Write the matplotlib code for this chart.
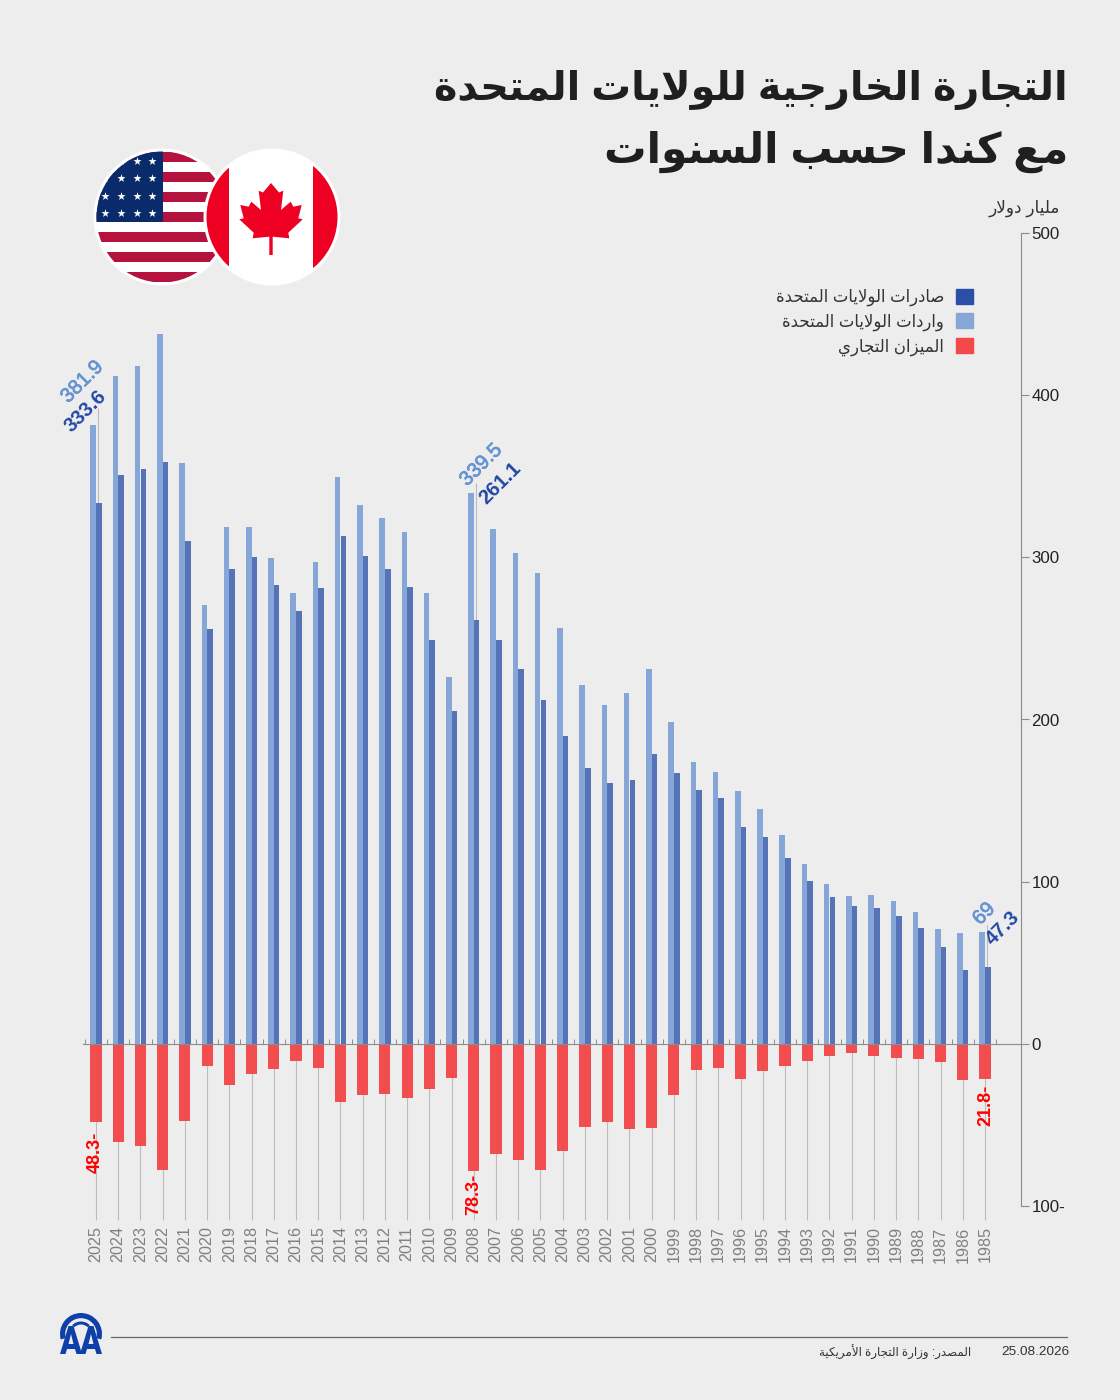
import numpy as np
import matplotlib
matplotlib.use('Agg')
import matplotlib.pyplot as plt
import matplotlib.patheffects as pe
from matplotlib.patches import Circle, Rectangle, Polygon, Wedge, Patch

plt.rcParams['font.family'] = ['Liberation Sans', 'DejaVu Sans']

years = list(range(2025, 1984, -1))
imports_us = [381.9, 412, 418, 437.5, 358, 270.5, 319, 319, 299.5, 278, 297, 349.5, 332.5, 324.5,
              315.5, 278, 226.5, 339.5, 317.5, 302.5, 290.5, 256.5, 221.5, 209, 216.5, 231, 198.5,
              173.5, 167.5, 156, 145, 128.5, 111, 98.5, 91, 91.5, 88, 81.5, 71, 68.5, 69]
exports_us = [333.6, 351, 354.5, 359, 310, 256, 293, 300, 283, 267, 281, 313, 301, 293,
              281.5, 249, 205, 261.1, 249, 231, 212, 190, 170, 161, 163, 179, 167,
              156.5, 151.5, 134, 127.5, 114.5, 100.5, 90.5, 85, 83.5, 79, 71.5, 59.5, 45.5, 47.3]
balance = [-48.3, -60.8, -63.3, -78, -47.3, -13.4, -25.3, -18.3, -15.8, -10.5, -15, -36, -31.3, -31.2,
           -33.7, -28, -21.2, -78.3, -67.8, -71.5, -78.1, -66, -51.4, -47.9, -52.4, -51.6, -31.6,
           -16.2, -15.2, -21.4, -16.6, -13.6, -10.5, -7.8, -5.5, -7.4, -8.8, -9.4, -10.9, -22.6, -21.8]
y_ticks = [-100, 0, 100, 200, 300, 400, 500]
y_tick_labels = ['100-', '0', '100', '200', '300', '400', '500']

title_1 = 'التجارة الخارجية للولايات المتحدة'
title_2 = 'مع كندا حسب السنوات'
unit_label = 'مليار دولار'
legend_labels = ['صادرات الولايات المتحدة', 'واردات الولايات المتحدة', 'الميزان التجاري']
source_label = 'المصدر: وزارة التجارة الأمريكية'
date_label = '25.08.2026'

BG = '#ededed'
LIGHT = '#86a6d7'
DARK = '#5773b8'
DARK_LEGEND = '#2b4fa6'
RED = '#f3474a'
AXIS = '#8c8c8c'

# matplotlib has no arabic shaping, so pick the presentation forms by hand
FORMS = {
    'ا': (0xFE8D, 0xFE8E), 'أ': (0xFE83, 0xFE84), 'ب': (0xFE8F, 0xFE90, 0xFE91, 0xFE92),
    'ة': (0xFE93, 0xFE94), 'ت': (0xFE95, 0xFE96, 0xFE97, 0xFE98), 'ج': (0xFE9D, 0xFE9E, 0xFE9F, 0xFEA0),
    'ح': (0xFEA1, 0xFEA2, 0xFEA3, 0xFEA4), 'خ': (0xFEA5, 0xFEA6, 0xFEA7, 0xFEA8), 'د': (0xFEA9, 0xFEAA),
    'ر': (0xFEAD, 0xFEAE), 'ز': (0xFEAF, 0xFEB0), 'س': (0xFEB1, 0xFEB2, 0xFEB3, 0xFEB4),
    'ص': (0xFEB9, 0xFEBA, 0xFEBB, 0xFEBC), 'ع': (0xFEC9, 0xFECA, 0xFECB, 0xFECC),
    'ق': (0xFED5, 0xFED6, 0xFED7, 0xFED8), 'ك': (0xFED9, 0xFEDA, 0xFEDB, 0xFEDC),
    'ل': (0xFEDD, 0xFEDE, 0xFEDF, 0xFEE0), 'م': (0xFEE1, 0xFEE2, 0xFEE3, 0xFEE4),
    'ن': (0xFEE5, 0xFEE6, 0xFEE7, 0xFEE8), 'و': (0xFEED, 0xFEEE), 'ي': (0xFEF1, 0xFEF2, 0xFEF3, 0xFEF4),
}
LAM_ALEF = {'ا': (0xFEFB, 0xFEFC), 'أ': (0xFEF7, 0xFEF8)}


def shape(text):
    out = []
    i = 0
    joins = False
    while i < len(text):
        c = text[i]
        if c not in FORMS:
            out.append(c)
            joins = False
            i += 1
            continue
        nxt = text[i + 1] if i + 1 < len(text) else ''
        if c == 'ل' and nxt in LAM_ALEF:
            out.append(chr(LAM_ALEF[nxt][1 if joins else 0]))
            joins = False
            i += 2
            continue
        f = FORMS[c]
        next_ok = nxt in FORMS and len(f) == 4
        if joins and next_ok:
            g = f[3]
        elif joins:
            g = f[1]
        elif next_ok:
            g = f[2]
        else:
            g = f[0]
        out.append(chr(g))
        joins = next_ok
        i += 1
    return ''.join(reversed(out))


fig = plt.figure(figsize=(11.2, 14), dpi=100, facecolor=BG)
ax = fig.add_axes([83 / 1120, (1400 - 1206) / 1400, (1021 - 83) / 1120, 973 / 1400])
ax.set_facecolor('none')
x = np.arange(len(years))

ax.vlines(x, 0, -108.5, color='#bcbcbc', lw=0.8, zorder=1, clip_on=False)
ax.bar(x - 0.125, imports_us, width=0.25, color=LIGHT, zorder=2)
ax.bar(x + 0.13, exports_us, width=0.25, color=DARK, zorder=2)
ax.bar(x, balance, width=0.5, color=RED, alpha=0.96, zorder=2)

ax.set_xlim(-0.585, 41.62)
ax.set_ylim(-100, 500)
for s in ['left', 'top']:
    ax.spines[s].set_visible(False)
ax.spines['bottom'].set_position(('data', 0))
ax.spines['bottom'].set_color(AXIS)
ax.spines['right'].set_color(AXIS)
ax.set_xticks(np.append(x - 0.5, x[-1] + 0.5))
ax.tick_params(axis='x', direction='in', length=3.6, width=0.7, color=AXIS, labelbottom=False)
ax.yaxis.tick_right()
ax.set_yticks(y_ticks)
ax.set_yticklabels(y_tick_labels)
ax.tick_params(axis='y', length=6, width=0.8, color=AXIS, labelsize=12.2, labelcolor='#222222', pad=1.5)

for xi, yr in zip(x, years):
    ax.text(xi, -112.5, str(yr), rotation=90, ha='center', va='top', fontsize=11.6, color='#808080', clip_on=False)

# leader lines and the highlighted years
for i, top in [(0, 392), (17, 346), (40, 73)]:
    ax.vlines(x[i] + 0.1, exports_us[i], top, color='#bcbcbc', lw=0.8, zorder=1)

def value_label(i, series, dx, dy, color, weight, rotation):
    t = ax.annotate(f'{series[i]:g}', xy=(x[i], series[i]), xytext=(dx, dy), textcoords='offset points',
                    ha='center', va='center', rotation=rotation, rotation_mode='anchor',
                    color=color, fontweight=weight, fontsize=14.6, zorder=5)
    if weight == 'normal':
        t.set_path_effects([pe.withStroke(linewidth=0.5, foreground=color)])

value_label(0, imports_us, -10, 30.7, '#6694d3', 'normal', 45)
value_label(0, exports_us, -7.2, 66.2, '#2148a5', 'bold', 45)
value_label(17, imports_us, 5.2, 20.4, '#6694d3', 'normal', 45)
value_label(17, exports_us, 18.9, 99, '#2148a5', 'bold', 45)
value_label(40, imports_us, -0.7, 13, '#6694d3', 'normal', 45)
value_label(40, exports_us, 13, 28.3, '#2148a5', 'bold', 45)
for i, dx, dy in [(0, -0.7, -22), (17, -0.3, -17.3), (40, 0.7, -19)]:
    ax.annotate(f'{abs(balance[i]):g}-', xy=(x[i], balance[i]), xytext=(dx, dy), textcoords='offset points',
                ha='center', va='center', rotation=90, rotation_mode='anchor',
                color='#ff0000', fontweight='bold', fontsize=13, zorder=5)

handles = [Patch(color=DARK_LEGEND), Patch(color=LIGHT), Patch(color=RED)]
fig.legend(handles, [shape(t) for t in legend_labels], frameon=False, markerfirst=False,
           loc='upper right', bbox_to_anchor=(973 / 1120, 1 - 288.5 / 1400), borderaxespad=0, borderpad=0,
           fontsize=11.9, labelcolor='#333333', handlelength=1.03, handleheight=1.03,
           handletextpad=0.72, labelspacing=0.44)

# page furniture in pixel coordinates
ov = fig.add_axes([0, 0, 1, 1], zorder=10)
ov.set_xlim(0, 1120)
ov.set_ylim(1400, 0)
ov.axis('off')

ov.text(1068, 90, shape(title_1), ha='right', va='center', fontsize=28.6, fontweight='bold', color='#1f1f1f')
ov.text(1068, 152, shape(title_2), ha='right', va='center', fontsize=30.5, fontweight='bold', color='#1f1f1f')
ov.text(1060, 208, shape(unit_label), ha='right', va='center', fontsize=12.2, color='#333333')
ov.text(1069, 1352, date_label, ha='right', va='center', fontsize=9.7, color='#333333')
ov.text(971, 1352, shape(source_label), ha='right', va='center', fontsize=8.6, color='#333333')
ov.plot([111, 1067], [1337, 1337], color='#666666', lw=0.9)

# US flag
ov.add_patch(Circle((162, 217), 68.5, fc='white', ec='none', zorder=1))
us_clip = Circle((162, 217), 65.5, transform=ov.transData)
for top in range(152, 282, 20):
    r = Rectangle((90, top), 150, 10, fc='#b5123e', ec='none', zorder=2)
    ov.add_patch(r)
    r.set_clip_path(us_clip)
canton = Rectangle((90, 150), 73, 72, fc='#0a2b6b', ec='none', zorder=3)
ov.add_patch(canton)
canton.set_clip_path(us_clip)
sx, sy = np.meshgrid([105, 121, 137, 152], [161, 178, 196, 213])
stars = ov.scatter(sx.ravel(), sy.ravel(), marker='*', s=38, color='white', linewidths=0, zorder=4)
stars.set_clip_path(us_clip)

# Canada flag
ov.add_patch(Circle((272, 217), 68.5, fc='white', ec='none', zorder=5))
ca_clip = Circle((272, 217), 65.5, transform=ov.transData)
for left, w in [(200, 28.5), (313, 30)]:
    r = Rectangle((left, 140), w, 160, fc='#ee0022', ec='none', zorder=6)
    ov.add_patch(r)
    r.set_clip_path(ca_clip)
half = [(0, -34), (8, -24.5), (12.3, -26.3), (10, -7), (19.7, -15.3), (22.3, -10.3), (30.7, -12),
        (27.3, 1.3), (31.7, 2.3), (17.3, 15.7), (18.3, 21.3), (1.7, 19.7), (1.7, 38)]
leaf = half + [(-a, b) for a, b in half[::-1]][:-1]
ov.add_patch(Polygon([(271 + a, 217 + b) for a, b in leaf], closed=True, fc='#ee0022', ec='none', zorder=7))

# agency logo
LOGO = '#0f3fa8'
ov.add_patch(Wedge((81, 1334), 21, 165, 375, width=5.2, fc=LOGO, ec='none'))
ov.add_patch(Wedge((81, 1334), 12.5, 225, 315, width=3, fc=LOGO, ec='none'))
for cx in (71, 91):
    ov.add_patch(Polygon([(cx - 11, 1354), (cx - 2.5, 1326), (cx + 2.5, 1326), (cx + 11, 1354), (cx + 5.5, 1354),
                          (cx + 4, 1349), (cx - 4, 1349), (cx - 5.5, 1354)], closed=True, fc=LOGO, ec='none'))
    ov.add_patch(Polygon([(cx, 1334), (cx + 2.5, 1344), (cx - 2.5, 1344)], closed=True, fc=BG, ec='none'))

fig.savefig('out.png', dpi=100, facecolor=BG)
